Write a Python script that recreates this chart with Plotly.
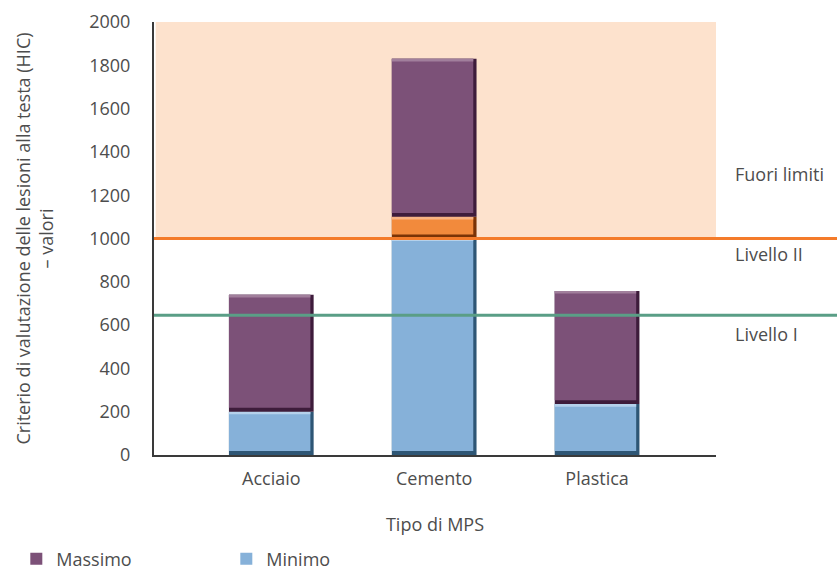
import plotly.graph_objects as go

categories = ["Acciaio", "Cemento", "Plastica"]
minimo = [200, 1000, 235]
intermedio = [0, 100, 0]
massimo = [740, 1830, 758]

livello_I = 645
livello_II = 1000
fuori_top = 2000
y_ticks = [0, 200, 400, 600, 800, 1000, 1200, 1400, 1600, 1800, 2000]

FONT = "Open Sans"
GRAY = "#4d4d4d"
W = 0.52          # bar width (category units)
DW = 0.02         # dark right edge
PAD_B = 18        # dark bottom band (value units, style only)
PAD_T = 12        # light top strip

massimo_seg = [m - a - b for m, a, b in zip(massimo, minimo, intermedio)]
base_inter = minimo
base_mass = [a + b for a, b in zip(minimo, intermedio)]

segments = [
    ("Minimo", minimo, [0, 0, 0], "#86B1D9", "#2E5675", "#B5D1EB", True),
    ("Intermedio", intermedio, base_inter, "#F28A3C", "#7A3306", "#F8B384", False),
    ("Massimo", massimo_seg, base_mass, "#7C5178", "#3E1C3B", "#A17F9C", True),
]

fig = go.Figure()
for name, h, b, main, dark, light, legend in segments:
    fig.add_trace(go.Bar(x=categories, y=h, base=b, width=W, offset=-W / 2,
                         marker=dict(color=dark, line=dict(width=0)),
                         showlegend=False, hoverinfo="skip"))
    hm = [max(v - PAD_B, 0) if v > 0 else 0 for v in h]
    bm = [bb + PAD_B for bb in b]
    fig.add_trace(go.Bar(x=categories, y=hm, base=bm, width=W - DW, offset=-W / 2,
                         marker=dict(color=main, line=dict(width=0)),
                         name=name, showlegend=legend, legendrank=2 if name == "Minimo" else 1))
    ht = [PAD_T if v > 0 else 0 for v in h]
    bt = [bb + v - PAD_T for bb, v in zip(b, h)]
    fig.add_trace(go.Bar(x=categories, y=ht, base=bt, width=W - DW, offset=-W / 2,
                         marker=dict(color=light, line=dict(width=0)),
                         showlegend=False, hoverinfo="skip"))

fig.add_shape(type="rect", xref="paper", x0=0.003, x1=1, yref="y", y0=livello_II, y1=fuori_top,
              fillcolor="#FDE2CD", line=dict(width=0), layer="below")
fig.add_shape(type="line", xref="paper", x0=0, x1=1.216, yref="y", y0=livello_II, y1=livello_II,
              line=dict(color="#F47B2A", width=3), layer="above")
fig.add_shape(type="line", xref="paper", x0=0, x1=1.216, yref="y", y0=livello_I, y1=livello_I,
              line=dict(color="#5A9E86", width=3), layer="above")

labels = [("Fuori limiti", 1300), ("Livello II", 930), ("Livello I", 560)]
for txt, yv in labels:
    fig.add_annotation(text=txt, xref="paper", x=1.03, xanchor="left", yref="y", y=yv,
                       showarrow=False, font=dict(family=FONT, size=18, color=GRAY))

fig.update_layout(
    width=837, height=571,
    margin=dict(l=154, r=121, t=22, b=116, autoexpand=False),
    paper_bgcolor="white", plot_bgcolor="white",
    barmode="overlay",
    font=dict(family=FONT, size=18, color=GRAY),
    showlegend=True,
    legend=dict(orientation="h", x=-0.245, xanchor="left", yref="container", y=0.021, yanchor="middle",
                entrywidth=165, entrywidthmode="pixels",
                font=dict(family=FONT, size=18, color=GRAY)),
    xaxis=dict(range=[-0.72, 2.73], showline=True, linecolor="#3a3a3a", linewidth=2,
               ticks="", showgrid=False, zeroline=False, ticklabelstandoff=6, automargin=False,
               tickfont=dict(size=18),
               title=dict(text="Tipo di MPS", standoff=30, font=dict(size=18))),
    yaxis=dict(range=[0, 2000], tickvals=y_ticks, showline=True, linecolor="#3a3a3a", linewidth=2,
               ticks="", showgrid=False, zeroline=False, ticklabelstandoff=18, automargin=False,
               tickfont=dict(size=18),
               title=dict(text="Criterio di valutazione delle lesioni alla testa (HIC)<br>– valori",
                          standoff=31, font=dict(size=18))),
)

fig.write_html("out.html")
